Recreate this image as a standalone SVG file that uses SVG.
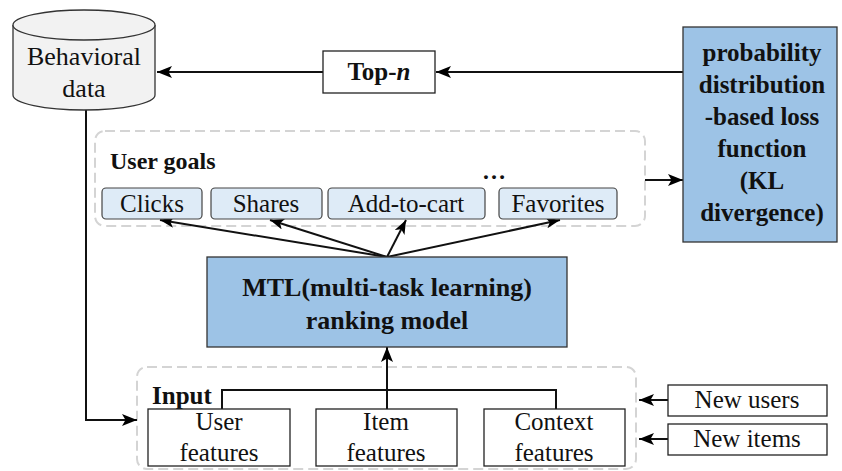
<svg xmlns="http://www.w3.org/2000/svg" width="842" height="471" viewBox="0 0 842 471">
  <style>
    text { font-family: "Liberation Serif", "Times New Roman", serif; fill: #111; }
    .t { font-size: 25px; text-anchor: middle; }
    .b { font-size: 25px; font-weight: bold; text-anchor: middle; }
    .blue { fill: #9dc3e6; stroke: #333; stroke-width: 1.3; }
    .goal { fill: #deebf7; stroke: #444; stroke-width: 1.2; }
    .plain { fill: #fff; stroke: #222; stroke-width: 1.3; }
    .group { fill: none; stroke: #d4d4d4; stroke-width: 2; stroke-dasharray: 10 5; }
    .link { fill: none; stroke: #111; stroke-width: 2; }
  </style>
  <defs>
    <marker id="arrow" viewBox="0 0 14 11" refX="14" refY="5.5" markerWidth="14" markerHeight="11" markerUnits="userSpaceOnUse" orient="auto">
      <path d="M0,0 L14,5.5 L0,11 L3.5,5.5 z" fill="#000"/>
    </marker>
    <marker id="arrowBig" viewBox="0 0 15 12" refX="15" refY="6" markerWidth="15" markerHeight="12" orient="auto" markerUnits="userSpaceOnUse">
      <path d="M0,0 L15,6 L0,12 L3.5,6 z" fill="#000"/>
    </marker>
  </defs>

  <!-- dashed grouping frames -->
  <rect id="user-goals" class="group" x="95" y="131" width="550" height="95" rx="10"/>
  <rect id="input-frame" class="group" x="137" y="367" width="499" height="102" rx="10"/>

  <!-- connectors -->
  <g id="connectors">
    <path class="link" d="M683,72 H436" marker-end="url(#arrowBig)"/>
    <path class="link" d="M323,72 H157" marker-end="url(#arrowBig)"/>
    <path class="link" d="M645,180 H683" marker-end="url(#arrowBig)"/>
    <path class="link" d="M86,110 V420 H137" marker-end="url(#arrowBig)"/>
    <path class="link" d="M387,257 L160,220" marker-end="url(#arrow)"/>
    <path class="link" d="M387,257 L270,220" marker-end="url(#arrow)"/>
    <path class="link" d="M387,257 L406,220" marker-end="url(#arrow)"/>
    <path class="link" d="M387,257 L560,220" marker-end="url(#arrow)"/>
    <path class="link" d="M222,409 V390 H556 V409"/>
    <path class="link" d="M387,409 V347" marker-end="url(#arrowBig)"/>
    <path class="link" d="M668,400 H639" marker-end="url(#arrowBig)"/>
    <path class="link" d="M668,439 H639" marker-end="url(#arrowBig)"/>
  </g>

  <!-- data store -->
  <g id="behavioral-data">
    <path d="M13,25 V95 A71,15 0 0 0 155,95 V25" fill="#f2f2f2" stroke="#333" stroke-width="1.3"/>
    <ellipse cx="84" cy="25" rx="71" ry="15" fill="#f2f2f2" stroke="#333" stroke-width="1.3"/>
    <text class="t" x="84" y="65" style="font-size:26px">Behavioral</text>
    <text class="t" x="84" y="97" style="font-size:26px">data</text>
  </g>

  <g id="top-n">
    <rect class="plain" x="323" y="51" width="112" height="42"/>
    <text class="b" x="379" y="80">Top-<tspan font-style="italic">n</tspan></text>
  </g>

  <g id="loss-function">
    <rect class="blue" x="683" y="27" width="154" height="215"/>
    <text class="b" x="762" y="61">probability</text>
    <text class="b" x="762" y="93">distribution</text>
    <text class="b" x="762" y="125">-based loss</text>
    <text class="b" x="762" y="157">function</text>
    <text class="b" x="762" y="189">(KL</text>
    <text class="b" x="762" y="221">divergence)</text>
  </g>

  <g id="goals-label">
    <text x="110" y="169" style="font-size:24px;font-weight:bold">User goals</text>
    <text x="482" y="179" style="font-size:24px;font-weight:bold">…</text>
  </g>

  <g id="goal-clicks">
    <rect class="goal" x="102" y="188" width="100" height="31" rx="4"/>
    <text class="t" x="152" y="212">Clicks</text>
  </g>
  <g id="goal-shares">
    <rect class="goal" x="211" y="188" width="111" height="31" rx="4"/>
    <text class="t" x="266" y="212">Shares</text>
  </g>
  <g id="goal-cart">
    <rect class="goal" x="328" y="188" width="157" height="31" rx="4"/>
    <text class="t" x="406" y="212">Add-to-cart</text>
  </g>
  <g id="goal-favorites">
    <rect class="goal" x="499" y="188" width="118" height="31" rx="4"/>
    <text class="t" x="558" y="212">Favorites</text>
  </g>

  <g id="mtl-model">
    <rect class="blue" x="207" y="257" width="360" height="90"/>
    <text class="b" x="387" y="296" style="font-size:26px">MTL(multi-task learning)</text>
    <text class="b" x="387" y="329" style="font-size:26px">ranking model</text>
  </g>

  <g id="input-label">
    <text x="152" y="404" style="font-size:25px;font-weight:bold">Input</text>
  </g>

  <g id="user-features">
    <rect class="plain" x="148" y="409" width="142" height="57"/>
    <text class="t" x="219" y="430">User</text>
    <text class="t" x="219" y="461">features</text>
  </g>
  <g id="item-features">
    <rect class="plain" x="316" y="409" width="141" height="57"/>
    <text class="t" x="386" y="430">Item</text>
    <text class="t" x="386" y="461">features</text>
  </g>
  <g id="context-features">
    <rect class="plain" x="484" y="409" width="141" height="57"/>
    <text class="t" x="554" y="430">Context</text>
    <text class="t" x="554" y="461">features</text>
  </g>

  <g id="new-users">
    <rect class="plain" x="668" y="385" width="159" height="31"/>
    <text class="t" x="747" y="408">New users</text>
  </g>
  <g id="new-items">
    <rect class="plain" x="668" y="424" width="159" height="31"/>
    <text class="t" x="747" y="447">New items</text>
  </g>
</svg>
